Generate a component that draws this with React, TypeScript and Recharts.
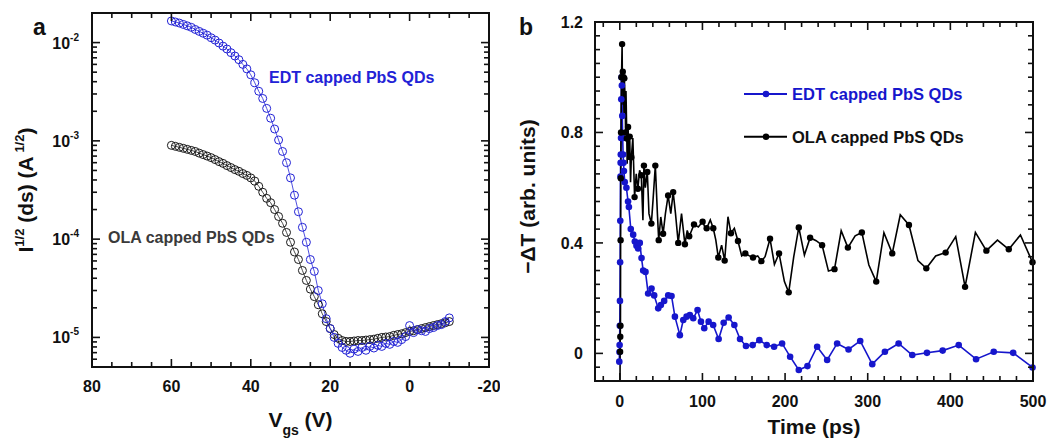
import React from 'react';
import { LineChart, Line, XAxis, YAxis, Legend, Label } from 'recharts';

const FONT = '"Liberation Sans", Arial, Helvetica, sans-serif';
const INK = '#111111';
const BLUE_A = '#2222d6';
const BLUE_B = '#1616cc';

// ---------- Panel a : transfer curves ----------
const vgs = [60, 59, 58, 57, 56, 55, 54, 53, 52, 51, 50, 49, 48, 47, 46, 45, 44, 43, 42, 41, 40, 39, 38, 37, 36, 35, 34, 33, 32, 31, 30, 29, 28, 27, 26, 25, 24, 23, 22, 21, 20, 19, 18, 17, 16, 15, 14, 13, 12, 11, 10, 9, 8, 7, 6, 5, 4, 3, 2, 1, 0, -1, -2, -3, -4, -5, -6, -7, -8, -9, -10];
const edtSqrtIds = [1.66e-2, 1.62e-2, 1.58e-2, 1.53e-2, 1.48e-2, 1.43e-2, 1.36e-2, 1.30e-2, 1.245e-2, 1.19e-2, 1.12e-2, 1.06e-2, 9.9e-3, 9.2e-3, 8.6e-3, 7.9e-3, 7.3e-3, 6.7e-3, 6.0e-3, 5.4e-3, 4.7e-3, 3.9e-3, 3.2e-3, 2.7e-3, 2.14e-3, 1.70e-3, 1.32e-3, 1.02e-3, 7.8e-4, 6.0e-4, 4.2e-4, 2.8e-4, 1.9e-4, 1.32e-4, 9.3e-5, 6.2e-5, 4.7e-5, 3.0e-5, 2.2e-5, 1.55e-5, 1.23e-5, 1.0e-5, 8.7e-6, 7.9e-6, 7.4e-6, 6.9e-6, 7.6e-6, 7.2e-6, 7.9e-6, 7.4e-6, 8.1e-6, 7.8e-6, 8.3e-6, 8.1e-6, 8.7e-6, 8.5e-6, 9.1e-6, 8.9e-6, 9.5e-6, 1.02e-5, 1.32e-5, 1.12e-5, 1.20e-5, 1.17e-5, 1.15e-5, 1.23e-5, 1.26e-5, 1.32e-5, 1.35e-5, 1.45e-5, 1.58e-5];
const olaSqrtIds = [9.0e-4, 8.8e-4, 8.6e-4, 8.4e-4, 8.2e-4, 8.0e-4, 7.8e-4, 7.5e-4, 7.25e-4, 7.0e-4, 6.75e-4, 6.45e-4, 6.15e-4, 5.9e-4, 5.6e-4, 5.35e-4, 5.1e-4, 4.9e-4, 4.65e-4, 4.45e-4, 4.2e-4, 3.9e-4, 3.45e-4, 3.0e-4, 2.6e-4, 2.35e-4, 2.0e-4, 1.7e-4, 1.45e-4, 1.17e-4, 9.3e-5, 7.4e-5, 6.2e-5, 4.8e-5, 3.8e-5, 3.1e-5, 2.6e-5, 2.15e-5, 1.74e-5, 1.45e-5, 1.23e-5, 1.07e-5, 9.8e-6, 9.3e-6, 9.1e-6, 9.1e-6, 9.2e-6, 9.3e-6, 9.3e-6, 9.4e-6, 9.5e-6, 9.6e-6, 9.8e-6, 1.0e-5, 1.01e-5, 1.02e-5, 1.05e-5, 1.07e-5, 1.09e-5, 1.12e-5, 1.15e-5, 1.17e-5, 1.2e-5, 1.23e-5, 1.26e-5, 1.29e-5, 1.32e-5, 1.35e-5, 1.38e-5, 1.41e-5, 1.45e-5];
const vgsTicks = [80, 75, 70, 65, 60, 55, 50, 45, 40, 35, 30, 25, 20, 15, 10, 5, 0, -5, -10, -15, -20];
const vgsMajor = [80, 60, 40, 20, 0, -20];
const logTicks = [5e-6, 6e-6, 7e-6, 8e-6, 9e-6, 1e-5, 2e-5, 3e-5, 4e-5, 5e-5, 6e-5, 7e-5, 8e-5, 9e-5, 1e-4, 2e-4, 3e-4, 4e-4, 5e-4, 6e-4, 7e-4, 8e-4, 9e-4, 1e-3, 2e-3, 3e-3, 4e-3, 5e-3, 6e-3, 7e-3, 8e-3, 9e-3, 1e-2, 2e-2];
const logMajor = [1e-5, 1e-4, 1e-3, 1e-2];
const logMajorExp = ['-5', '-4', '-3', '-2'];

// ---------- Panel b : transient absorption ----------
const edtTime = [-0.6, -0.4, -0.2, 0, 0.2, 0.4, 0.6, 0.8, 1.0, 1.2, 1.5, 1.8, 2.1, 2.5, 3, 3.5, 4, 4.5, 5, 6, 8, 10, 11, 13.3, 16.2, 18.2, 20.2, 22.2, 24.2, 26.3, 28.3, 31.1, 34.3, 38.4, 41.6, 46.5, 49.7, 53.7, 58.6, 62.6, 66.7, 72.7, 76.8, 80.8, 84.8, 88.9, 94.1, 98.2, 102.2, 107.5, 113, 119.6, 125.7, 131.7, 138.6, 145.5, 152.7, 160.8, 168.9, 177.8, 186.7, 196.4, 206.1, 216.6, 227.1, 238.8, 250.9, 263, 276.8, 290.9, 305.5, 320.8, 337.4, 353.9, 371.7, 390.7, 410.1, 431.1, 452.5, 476, 499.4];
const edtDT = [-0.03, 0.005, 0.03, 0.10, 0.19, 0.33, 0.48, 0.64, 0.69, 0.72, 0.78, 0.92, 1.00, 0.97, 0.86, 0.78, 0.72, 0.69, 0.66, 0.62, 0.60, 0.55, 0.53, 0.45, 0.43, 0.405, 0.39, 0.38, 0.40, 0.345, 0.30, 0.295, 0.217, 0.235, 0.21, 0.163, 0.175, 0.19, 0.21, 0.208, 0.133, 0.066, 0.121, 0.133, 0.139, 0.127, 0.157, 0.115, 0.091, 0.115, 0.103, 0.052, 0.111, 0.130, 0.103, 0.052, 0.027, 0.030, 0.048, 0.030, 0.024, 0.036, -0.012, -0.060, -0.046, 0.024, -0.024, 0.036, 0.014, 0.045, -0.039, 0.006, 0.036, -0.006, 0.002, 0.010, 0.030, -0.021, 0.006, 0.002, -0.051];
const olaTime = [0.3, 0.4, 0.5, 0.6, 0.7, 0.8, 0.9, 1.0, 1.1, 1.2, 1.3, 1.5, 1.7, 2.0, 2.4, 2.8, 3.2, 3.6, 4.0, 4.5, 5.0, 5.5, 6.5, 7.0, 7.5, 8.5, 8.9, 10, 11, 12, 13, 14, 15.8, 17.9, 19.9, 21.9, 24, 26, 28, 29.2, 30.9, 33.3, 35.3, 38.2, 40.2, 43, 45.5, 47.1, 49.6, 52.4, 55.2, 58.5, 61.7, 64.6, 67.4, 70.7, 74.7, 78.8, 81.6, 84, 86.9, 89.8, 95, 100.2, 102.6, 105.1, 109.5, 113.1, 116.2, 119.2, 123.2, 126.9, 130.9, 134.5, 138.6, 143, 147.5, 151.9, 156.8, 161.2, 166.9, 171.3, 175.8, 181.8, 187.1, 192.7, 199.2, 204.4, 210.5, 216.6, 223.4, 230.3, 237.6, 244.8, 252.5, 259.8, 267.9, 276, 284.8, 292.9, 301.4, 310.3, 319.6, 329.7, 339.4, 349.9, 360.8, 370.9, 382.2, 394.3, 406.5, 417.8, 430.3, 443.6, 457, 470.7, 484.8, 499.4];
const olaDT = [-0.1, 0.006, 0.036, 0.06, 0.085, 0.10, 0.235, 0.41, 0.477, 0.634, 0.664, 0.80, 0.875, 1.00, 1.05, 1.12, 0.95, 1.02, 0.90, 1.00, 0.87, 0.996, 0.92, 0.80, 0.95, 0.778, 0.687, 0.82, 0.70, 0.785, 0.62, 0.71, 0.78, 0.566, 0.65, 0.596, 0.663, 0.645, 0.482, 0.68, 0.60, 0.657, 0.506, 0.47, 0.554, 0.68, 0.506, 0.41, 0.494, 0.433, 0.506, 0.572, 0.506, 0.584, 0.506, 0.40, 0.506, 0.395, 0.445, 0.424, 0.445, 0.467, 0.458, 0.477, 0.46, 0.453, 0.483, 0.453, 0.41, 0.347, 0.392, 0.336, 0.495, 0.435, 0.453, 0.407, 0.353, 0.362, 0.353, 0.347, 0.353, 0.334, 0.350, 0.415, 0.322, 0.362, 0.260, 0.221, 0.35, 0.456, 0.356, 0.419, 0.408, 0.392, 0.298, 0.305, 0.444, 0.383, 0.426, 0.438, 0.320, 0.260, 0.437, 0.362, 0.502, 0.465, 0.336, 0.308, 0.353, 0.365, 0.423, 0.241, 0.438, 0.372, 0.410, 0.377, 0.429, 0.330];
const timeTicks = [-20, 0, 20, 40, 60, 80, 100, 120, 140, 160, 180, 200, 220, 240, 260, 280, 300, 320, 340, 360, 380, 400, 420, 440, 460, 480, 500];
const timeMajor = [0, 100, 200, 300, 400, 500];
const dtTicks = [-0.1, -0.05, 0, 0.05, 0.1, 0.15, 0.2, 0.25, 0.3, 0.35, 0.4, 0.45, 0.5, 0.55, 0.6, 0.65, 0.7, 0.75, 0.8, 0.85, 0.9, 0.95, 1.0, 1.05, 1.1, 1.15, 1.2];
const dtMajor = [0, 0.4, 0.8, 1.2];
const dtMajorLabels = ['0', '0.4', '0.8', '1.2'];

const seriesNames = ['EDT capped PbS QDs', 'OLA capped PbS QDs'];

const panelA = vgs.map((v, i) => ({ v, edt: edtSqrtIds[i], ola: olaSqrtIds[i] }));
const edtData = edtTime.map((t, i) => ({ t, v: edtDT[i] }));
const olaData = olaTime.map((t, i) => ({ t, v: olaDT[i] }));
const olaMarkerParity = olaTime.indexOf(100.2) % 2;

// layout (bottom / left axes are 1px thick)
const A_W = 500, A_H = 443;
const A_M = { top: 13, right: 11, bottom: 75, left: 91 };
const B_LEFT = 500;
const B_W = 547, B_H = 443;
const B_M = { top: 22, right: 14, bottom: 61, left: 94 };
const frameA = { x0: A_M.left + 1, x1: A_W - A_M.right, y0: A_M.top, y1: A_H - A_M.bottom - 1 };
const frameB = { x0: B_LEFT + B_M.left + 1, x1: B_LEFT + B_W - B_M.right, y0: B_M.top, y1: B_H - B_M.bottom - 1 };
const VGS_DOMAIN = [-20, 80];
const LOG_DOMAIN = [5e-6, 2e-2];
const T_DOMAIN = [-30, 500];
const DT_DOMAIN = [-0.1, 1.2];

// frame tick positions (same mapping the chart axes use)
const ax = (v: number) => frameA.x0 + ((VGS_DOMAIN[1] - v) / (VGS_DOMAIN[1] - VGS_DOMAIN[0])) * (frameA.x1 - frameA.x0);
const ay = (v: number) =>
  frameA.y0 + ((Math.log10(LOG_DOMAIN[1]) - Math.log10(v)) / (Math.log10(LOG_DOMAIN[1]) - Math.log10(LOG_DOMAIN[0]))) * (frameA.y1 - frameA.y0);
const bx = (v: number) => frameB.x0 + ((v - T_DOMAIN[0]) / (T_DOMAIN[1] - T_DOMAIN[0])) * (frameB.x1 - frameB.x0);
const by = (v: number) => frameB.y0 + ((DT_DOMAIN[1] - v) / (DT_DOMAIN[1] - DT_DOMAIN[0])) * (frameB.y1 - frameB.y0);

const near = (list: number[], v: number) => list.findIndex((m) => Math.abs(m - v) <= Math.abs(m) * 1e-6 + 1e-9);

const Frame = ({ f, xt, xm, xf, yt, ym, yf }: any) => {
  const s = { stroke: INK, strokeWidth: 1.6 };
  return (
    <g>
      <rect x={f.x0} y={f.y0} width={f.x1 - f.x0} height={f.y1 - f.y0} fill="none" stroke={INK} strokeWidth={2} />
      {xt.map((v: number, i: number) => {
        const len = near(xm, v) >= 0 ? 8 : 5;
        const x = xf(v);
        return (
          <g key={`x${i}`}>
            <line x1={x} y1={f.y1} x2={x} y2={f.y1 - len} {...s} />
            <line x1={x} y1={f.y0} x2={x} y2={f.y0 + len} {...s} />
          </g>
        );
      })}
      {yt.map((v: number, i: number) => {
        const len = near(ym, v) >= 0 ? 8 : 5;
        const y = yf(v);
        return (
          <g key={`y${i}`}>
            <line x1={f.x0} y1={y} x2={f.x0 + len} y2={y} {...s} />
            <line x1={f.x1} y1={y} x2={f.x1 - len} y2={y} {...s} />
          </g>
        );
      })}
    </g>
  );
};

// axis tick labels drawn through the chart axes
const makeTick = (major: number[], label: (idx: number, v: number, x: number, y: number) => React.ReactNode) => (props: any) => {
  const { x, y, payload } = props;
  const mi = near(major, payload.value);
  return <g>{mi >= 0 ? label(mi, payload.value, x, y) : null}</g>;
};

const txt = { fontFamily: FONT, fontWeight: 700, fill: '#111' } as const;

const axisLine = { stroke: INK, strokeWidth: 2 };

const OpenCircle = (color: string) => (p: any) => (
  <circle key={`c${p.index}`} cx={p.cx} cy={p.cy} r={4} fill="none" stroke={color} strokeWidth={1} />
);

const BlueDot = (p: any) => <circle key={`b${p.index}`} cx={p.cx} cy={p.cy} r={3.3} fill={BLUE_B} stroke="none" />;
const BlackDot = (p: any) =>
  p.index % 2 === olaMarkerParity ? (
    <circle key={`k${p.index}`} cx={p.cx} cy={p.cy} r={3.2} fill="#000" stroke="none" />
  ) : (
    <g key={`k${p.index}`} />
  );

const VgsTitle = (props: any) => {
  const vb = props.viewBox;
  const x = vb.x + vb.width / 2 + 10;
  const y = vb.y + 60;
  return (
    <text x={x} y={y} textAnchor="middle" fontSize={21} {...txt}>
      V<tspan dy={8} fontSize={14}>gs</tspan>
      <tspan dy={-8}> (V)</tspan>
    </text>
  );
};

const IdsTitle = (props: any) => {
  const vb = props.viewBox;
  const cx = vb.x + vb.width - 59;
  const cy = vb.y + vb.height / 2;
  return (
    <text x={cx} y={cy} textAnchor="middle" fontSize={21} transform={`rotate(-90 ${cx} ${cy})`} {...txt}>
      I<tspan dy={-9} fontSize={13}>1/2</tspan>
      <tspan dy={9}> (ds) (A</tspan>
      <tspan dy={-9} fontSize={13}> 1/2</tspan>
      <tspan dy={9}>)</tspan>
    </text>
  );
};

const TimeTitle = (props: any) => {
  const vb = props.viewBox;
  return (
    <text x={vb.x + vb.width / 2} y={vb.y + 53} textAnchor="middle" fontSize={21} {...txt}>
      Time (ps)
    </text>
  );
};

const DTTitle = (props: any) => {
  const vb = props.viewBox;
  const cx = vb.x + vb.width - 60;
  const cy = vb.y + vb.height / 2 - 5;
  return (
    <text x={cx} y={cy} textAnchor="middle" fontSize={21} transform={`rotate(-90 ${cx} ${cy})`} {...txt}>
      −ΔT (arb. units)
    </text>
  );
};

const LegendB = () => (
  <svg width={260} height={70} style={{ overflow: 'visible' }}>
    <line x1={0} y1={10} x2={43} y2={10} stroke={BLUE_B} strokeWidth={2} />
    <circle cx={22} cy={10} r={3.3} fill={BLUE_B} />
    <text x={48} y={16} fontSize={16.5} {...txt} fill={BLUE_B}>{seriesNames[0]}</text>
    <line x1={0} y1={52.7} x2={43} y2={52.7} stroke="#000" strokeWidth={2} />
    <circle cx={22} cy={52.7} r={3.2} fill="#000" />
    <text x={48} y={58.7} fontSize={16.5} {...txt}>{seriesNames[1]}</text>
  </svg>
);

export default function App() {
  return (
    <div style={{ position: 'absolute', left: 0, top: 0, width: 1047, height: 443, background: '#fff' }}>
      <div style={{ position: 'absolute', left: 0, top: 0 }}>
        <LineChart width={A_W} height={A_H} data={panelA} margin={A_M}>
          <XAxis
            dataKey="v"
            type="number"
            domain={VGS_DOMAIN}
            reversed
            ticks={vgsTicks}
            interval={0}
            height={1}
            tickSize={0}
            tickMargin={0}
            tickLine={false}
            axisLine={axisLine}
            tick={makeTick(vgsMajor, (i, v, x, y) => (
              <text x={x} y={y + 25} textAnchor="middle" fontSize={16} {...txt}>{String(v)}</text>
            ))}
          >
            <Label content={VgsTitle} />
          </XAxis>
          <YAxis
            type="number"
            scale="log"
            domain={LOG_DOMAIN}
            ticks={logTicks}
            interval={0}
            width={1}
            tickSize={0}
            tickMargin={0}
            tickLine={false}
            axisLine={axisLine}
            tick={makeTick(logMajor, (i, v, x, y) => (
              <text x={x - 13} y={y + 6} textAnchor="end" fontSize={16} {...txt}>
                10<tspan dy={-8} fontSize={10}>{logMajorExp[i]}</tspan>
              </text>
            ))}
          >
            <Label content={IdsTitle} />
          </YAxis>
          <Line
            dataKey="ola"
            name={seriesNames[1]}
            stroke="#222"
            strokeWidth={0.8}
            dot={OpenCircle('#1a1a1a')}
            isAnimationActive={false}
          />
          <Line
            dataKey="edt"
            name={seriesNames[0]}
            stroke={BLUE_A}
            strokeWidth={0.8}
            dot={OpenCircle(BLUE_A)}
            isAnimationActive={false}
          />
        </LineChart>
      </div>

      <div style={{ position: 'absolute', left: B_LEFT, top: 0 }}>
        <LineChart width={B_W} height={B_H} margin={B_M}>
          <XAxis
            dataKey="t"
            type="number"
            domain={T_DOMAIN}
            ticks={timeTicks}
            interval={0}
            height={1}
            tickSize={0}
            tickMargin={0}
            tickLine={false}
            axisLine={axisLine}
            tick={makeTick(timeMajor, (i, v, x, y) => (
              <text x={x} y={y + 26} textAnchor="middle" fontSize={16} {...txt}>{String(v)}</text>
            ))}
          >
            <Label content={TimeTitle} />
          </XAxis>
          <YAxis
            type="number"
            domain={DT_DOMAIN}
            ticks={dtTicks}
            interval={0}
            width={1}
            tickSize={0}
            tickMargin={0}
            tickLine={false}
            axisLine={axisLine}
            tick={makeTick(dtMajor, (i, v, x, y) => (
              <text x={x - 12} y={y + 6} textAnchor="end" fontSize={16} {...txt}>{dtMajorLabels[i]}</text>
            ))}
          >
            <Label content={DTTitle} />
          </YAxis>
          <Line
            data={edtData}
            dataKey="v"
            name={seriesNames[0]}
            stroke={BLUE_B}
            strokeWidth={1.6}
            dot={BlueDot}
            isAnimationActive={false}
          />
          <Line
            data={olaData}
            dataKey="v"
            name={seriesNames[1]}
            stroke="#000"
            strokeWidth={1.6}
            dot={BlackDot}
            isAnimationActive={false}
          />
          <Legend
            layout="horizontal"
            verticalAlign="middle"
            align="center"
            wrapperStyle={{ left: 244, top: 84, width: 260, height: 70 }}
            content={LegendB}
          />
        </LineChart>
      </div>

      <svg width={1047} height={443} style={{ position: 'absolute', left: 0, top: 0, pointerEvents: 'none' }}>
        <Frame f={frameA} xt={vgsTicks} xm={vgsMajor} xf={ax} yt={logTicks} ym={logMajor} yf={ay} />
        <Frame f={frameB} xt={timeTicks} xm={timeMajor} xf={bx} yt={dtTicks} ym={dtMajor} yf={by} />
        <text x={33} y={35} fontSize={23} {...txt}>a</text>
        <text x={519} y={35} fontSize={23} {...txt}>b</text>
        <text x={269} y={83} fontSize={16} {...txt} fill={BLUE_A}>{seriesNames[0]}</text>
        <text x={108} y={243} fontSize={16} {...txt} fill="#3a3a3a">{seriesNames[1]}</text>
      </svg>
    </div>
  );
}
